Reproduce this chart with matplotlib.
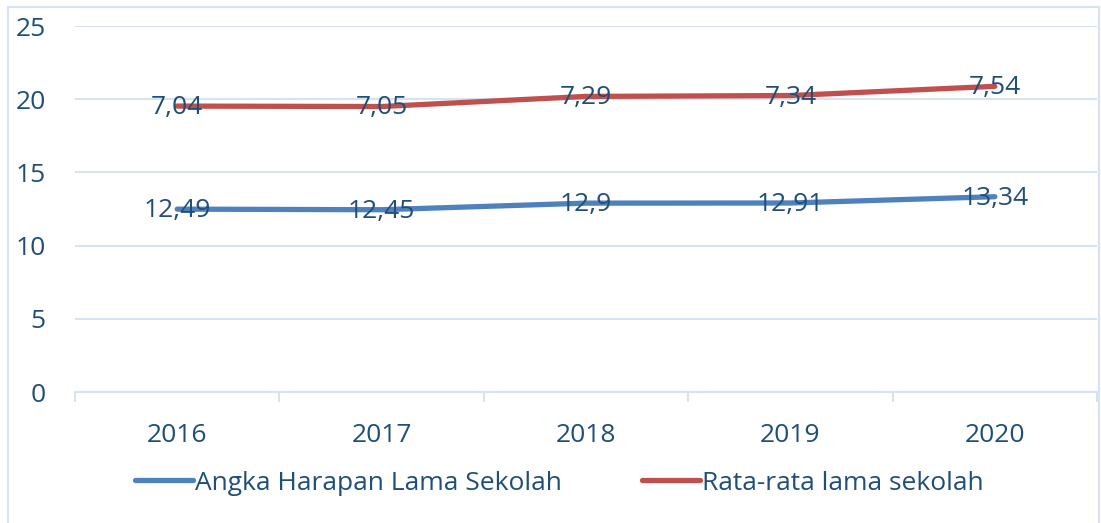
import matplotlib.pyplot as plt
import numpy as np
from matplotlib.patches import Rectangle

years = ["2016", "2017", "2018", "2019", "2020"]
harapan = [12.49, 12.45, 12.9, 12.91, 13.34]
rata_rata = [7.04, 7.05, 7.29, 7.34, 7.54]
labels_harapan = ["12,49", "12,45", "12,9", "12,91", "13,34"]
labels_rata = ["7,04", "7,05", "7,29", "7,34", "7,54"]

plt.rcParams['font.family'] = ['Open Sans', 'DejaVu Sans']
text_col = "#1F4E79"
grid_col = "#D6E3F3"
blue = "#4F81BD"
red = "#C0504D"
fs = 19

fig = plt.figure(figsize=(11.01, 5.23), dpi=100)
ax = fig.add_axes([75 / 1101, 1 - 392 / 523, (1097 - 75) / 1101, (392 - 26) / 523])

x = np.arange(len(years))
# the red series is stacked on top of the blue one
stacked = np.array(harapan) + np.array(rata_rata)

ax.plot(x, harapan, color=blue, lw=3.8, solid_capstyle="round", label="Angka Harapan Lama Sekolah", zorder=3)
ax.plot(x, stacked, color=red, lw=3.8, solid_capstyle="round", label="Rata-rata lama sekolah", zorder=3)

for xi, yi, t in zip(x, harapan, labels_harapan):
    ax.text(xi, yi - 0.1, t, ha="center", va="center", fontsize=fs, color=text_col, zorder=4)
for xi, yi, t in zip(x, stacked, labels_rata):
    ax.text(xi, yi - 0.1, t, ha="center", va="center", fontsize=fs, color=text_col, zorder=4)

ax.set_xlim(-0.5, 4.5)
ax.set_ylim(0, 25)
ax.set_yticks([0, 5, 10, 15, 20, 25])
ax.yaxis.grid(True, color=grid_col, lw=1.5)
ax.set_axisbelow(True)

for s in ["top", "right", "left"]:
    ax.spines[s].set_visible(False)
ax.spines["bottom"].set_color(grid_col)
ax.spines["bottom"].set_linewidth(1.5)

ax.set_xticks(x)
ax.set_xticklabels(years)
ax.set_xticks(np.arange(-0.5, 5, 1), minor=True)
ax.tick_params(axis="x", which="major", length=0, pad=22, labelsize=fs, labelcolor=text_col)
ax.tick_params(axis="x", which="minor", length=7, width=1.5, color=grid_col)
ax.tick_params(axis="y", length=0, pad=21, labelsize=fs, labelcolor=text_col)

leg = fig.legend(loc="center", bbox_to_anchor=(0.508, 1 - 483 / 523), ncol=2, frameon=False,
                 fontsize=fs, handlelength=2.2, columnspacing=3.0, handletextpad=0.1)
for t in leg.get_texts():
    t.set_color(text_col)

fig.patches.append(Rectangle((8 / 1101, -0.01), (1099 - 8) / 1101, 1 - 7 / 523 + 0.01,
                             transform=fig.transFigure, fill=False, edgecolor=grid_col, lw=1.5))

fig.savefig("out.png", dpi=100)
